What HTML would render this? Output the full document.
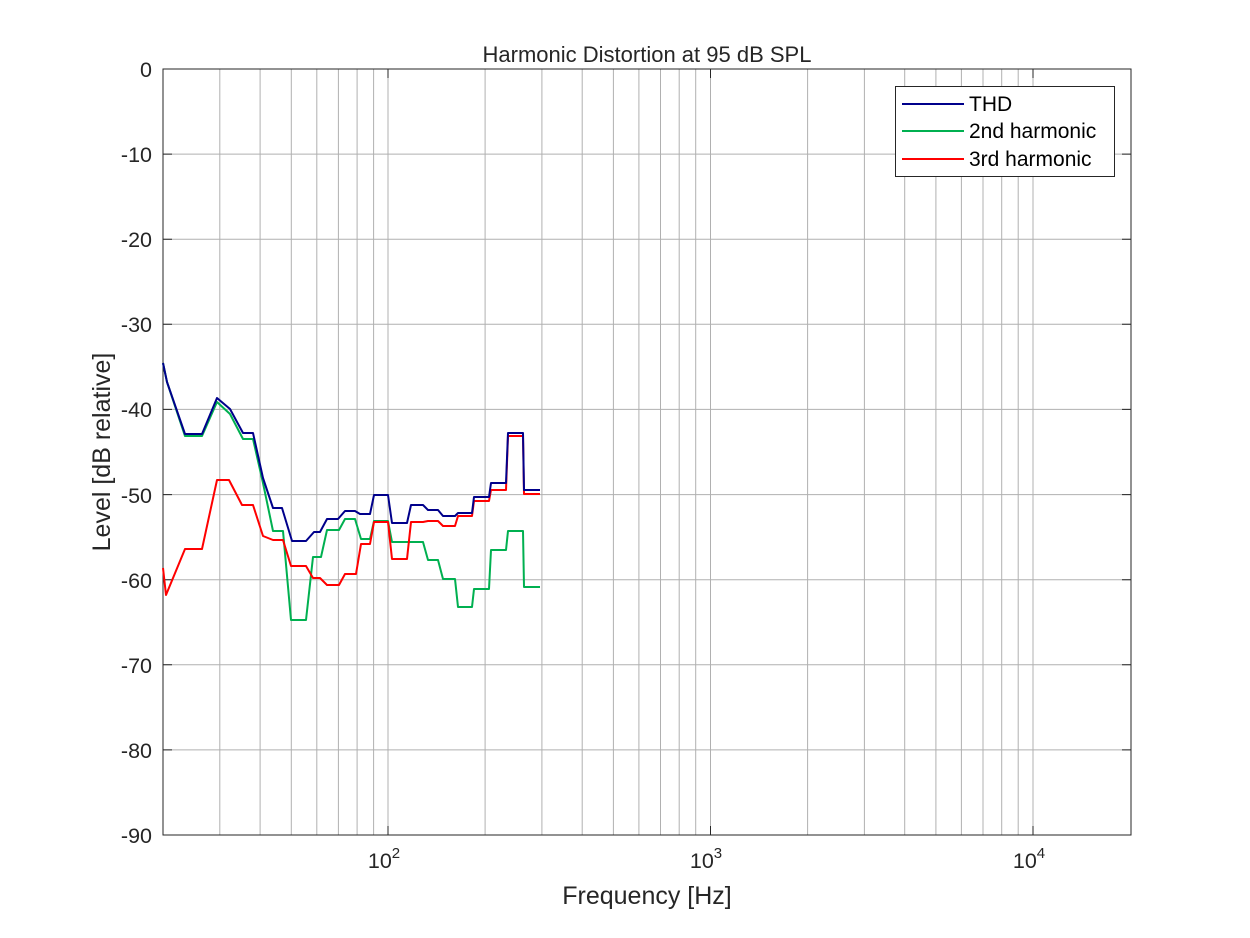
<!DOCTYPE html>
<html><head><style>body{margin:0;background:#fff}svg{display:block}</style></head><body>
<svg width="1250" height="938" xmlns="http://www.w3.org/2000/svg" font-family="Liberation Sans, sans-serif">
<rect width="1250" height="938" fill="#fff"/>
<g stroke="#b0b0b0" stroke-width="1">
<path d="M219.8 69V835M260.1 69V835M291.3 69V835M316.8 69V835M338.4 69V835M357.1 69V835M373.6 69V835M388 69V835M485.1 69V835M541.9 69V835M582.2 69V835M613.4 69V835M638.9 69V835M660.5 69V835M679.2 69V835M695.7 69V835M710.5 69V835M807.6 69V835M864.4 69V835M904.7 69V835M935.9 69V835M961.4 69V835M983 69V835M1001.7 69V835M1018.2 69V835M1033 69V835"/>
<path d="M163 154.1H1131M163 239.2H1131M163 324.3H1131M163 409.4H1131M163 494.6H1131M163 579.7H1131M163 664.8H1131M163 749.9H1131"/>
</g>
<rect x="163" y="69" width="968" height="766" fill="none" stroke="#262626" stroke-width="1"/>
<g stroke="#262626"><path d="M163 154.1h9M163 239.2h9M163 324.3h9M163 409.4h9M163 494.6h9M163 579.7h9M163 664.8h9M163 749.9h9M1131 154.1h-9M1131 239.2h-9M1131 324.3h-9M1131 409.4h-9M1131 494.6h-9M1131 579.7h-9M1131 664.8h-9M1131 749.9h-9M388 835v-9M710.5 835v-9M1033 835v-9M388 69v9M710.5 69v9M1033 69v9"/></g>
<g font-size="21.5" fill="#262626" text-anchor="end">
<text x="152" y="77">0</text><text x="152" y="162">-10</text><text x="152" y="247">-20</text><text x="152" y="332">-30</text><text x="152" y="417">-40</text><text x="152" y="503">-50</text><text x="152" y="588">-60</text><text x="152" y="673">-70</text><text x="152" y="758">-80</text><text x="152" y="843">-90</text>
</g>
<g font-size="21.5" fill="#262626" text-anchor="middle">
<text x="384" y="868">10<tspan font-size="15" dy="-10">2</tspan></text>
<text x="706" y="868">10<tspan font-size="15" dy="-10">3</tspan></text>
<text x="1029" y="868">10<tspan font-size="15" dy="-10">4</tspan></text>
<text x="647" y="904" font-size="25">Frequency [Hz]</text>
<text x="647" y="62" font-size="22">Harmonic Distortion at 95 dB SPL</text>
<text transform="translate(110 452) rotate(-90)" font-size="25">Level [dB relative]</text>
</g>
<g fill="none" stroke-width="2" stroke-linejoin="round">
<polyline stroke="#00b050" points="163,363 167,382 185,436 202,436 217,402 230,414 243,439 253,439 263,483 273,531 283,531 291,620 306,620 313,557 321,557 327,530 339,530 345,519 355,519 361,539 370,539 374,521 388,521 392,542 423,542 428,560 438,560 443,579 455,579 458,607 472,607 474,589 489,589 491,550 506,550 508,531 523,531 524,587 540,587"/>
<polyline stroke="#ff0000" points="163,568 166,595 185,549 202,549 217,480 229,480 242,505 253,505 263,536 273,540 283,540 291,566 306,566 313,578 320,578 327,585 339,585 345,574 356,574 361,544 370,544 374,522 388,522 392,559 407,559 411,522 423,522 428,521 438,521 443,526 455,526 458,516 472,516 474,501 489,501 491,490 506,490 508,436 523,436 524,494 540,494"/>
<polyline stroke="#00008b" points="163,363 167,382 185,434 202,434 217,398 230,409 243,433 253,433 263,478 273,508 282,508 292,541 306,541 314,532 320,532 327,519 338,519 345,511 355,511 360,514 370,514 374,495 388,495 392,523 407,523 411,505 423,505 428,510 438,510 443,516 455,516 458,513 472,513 474,497 489,497 491,483 506,483 508,433 523,433 524,490 540,490"/>
</g>
<rect x="895.5" y="86.5" width="219" height="90" fill="#fff" stroke="#262626"/>
<path d="M902 104h62" stroke="#00008b" stroke-width="2"/>
<path d="M902 131h62" stroke="#00b050" stroke-width="2"/>
<path d="M902 159h62" stroke="#ff0000" stroke-width="2"/>
<g font-size="21" fill="#000">
<text x="969" y="111">THD</text><text x="969" y="138">2nd harmonic</text><text x="969" y="166">3rd harmonic</text>
</g>
</svg>
</body></html>
